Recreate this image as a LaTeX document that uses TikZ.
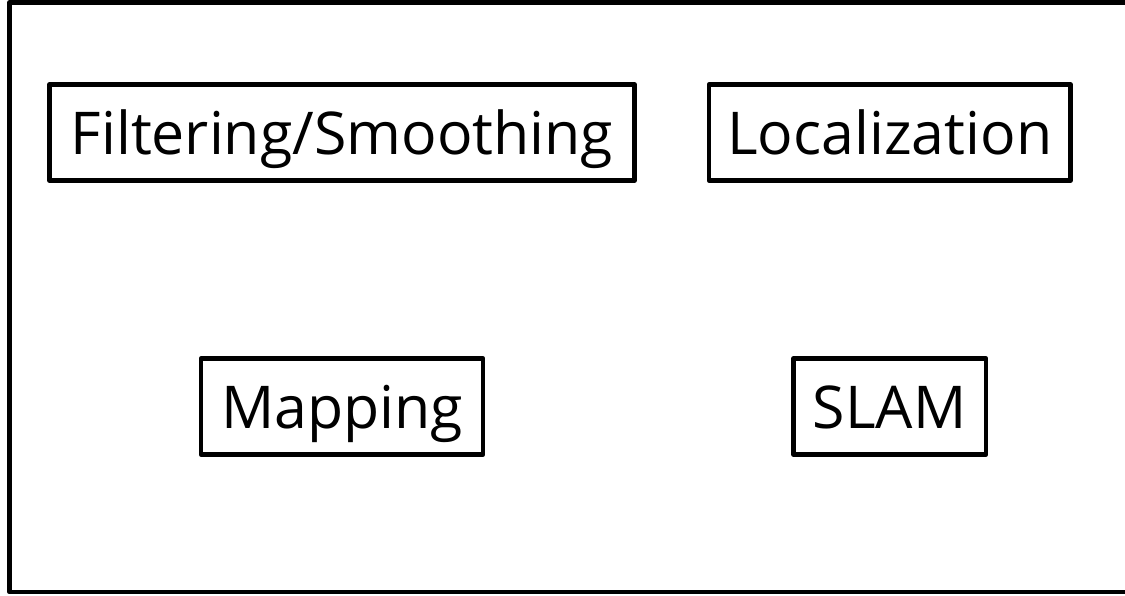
\documentclass[tikz,border=0pt]{standalone}
\usepackage{fontspec}
\setmainfont{Open Sans}
\usetikzlibrary{%
  positioning,% wg. " of "
  shapes%
}

\begin{document}
\begin{tikzpicture}
[x=1pt, y=-1pt, node distance=173.5pt, line width=4.5pt, line join=round,
task/.style={rectangle, draw=black, inner sep=0pt, minimum height=96pt,
  text height=52pt, text depth=9pt, font=\fontsize{59}{59}\selectfont}]

\useasboundingbox (0,0) rectangle (1125,595);
\clip (0,0) rectangle (1125,595);
\draw (9.5,2.5) rectangle (1135,592);

\node[task, minimum width=585pt] (filtering) at (342,132.5) {Filtering/Smoothing};
\node[task, minimum width=361.5pt] (localization) at (889.75,132.5) {Localization};
\node[task, minimum width=282pt, below=of filtering] (mapping) {Mapping};
\node[task, minimum width=192.5pt, below=of localization] (slam) {SLAM};
\end{tikzpicture}
\end{document}
